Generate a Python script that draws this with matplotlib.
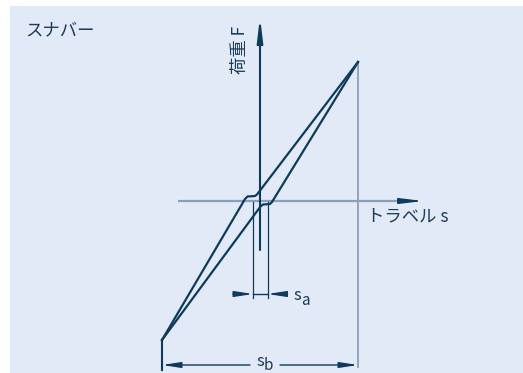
import matplotlib
matplotlib.use('Agg')
import matplotlib.pyplot as plt

plt.rcParams['font.family'] = ['Noto Sans CJK JP', 'DejaVu Sans']

# ヒステリシス曲線 (原点=軸の交点, 単位は任意)
travel_up = [-98, -15, -12.5, -5, -3, 98]
load_up = [-139, 2, 4.5, 5, 6.5, 139]
travel_down = [-98, 0.5, 3, 10, 12, 98]
load_down = [-139, -5.5, -3.5, -3, -1, 139]

# 寸法
sa_left, sa_right = -7, 7.5
sb_left, sb_right = -98, 98
load_max, load_min = 139, -139

title = 'スナバー'
label_f = '荷重 F'
label_s = 'トラベル s'

navy = '#0e3a5c'
grey = '#8a9fb9'
txt = '#1c3b5a'
bg = '#e3eaf7'

fig = plt.figure(figsize=(5.23, 3.73), dpi=100)
ax = fig.add_axes([10 / 523, 0, 513 / 523, 367 / 373])
ax.set_facecolor(bg)
ax.set_xlim(-250, 263)
ax.set_ylim(-172, 195)
for sp in ax.spines.values():
    sp.set_visible(False)
ax.set_xticks([])
ax.set_yticks([])

axis_head = '-|>,head_length=1.4,head_width=0.17'
# 横軸 (灰色の線 + 濃い矢印)
ax.plot([-82, 150], [0, 0], color=grey, lw=1.6, solid_capstyle='butt')
ax.annotate('', xy=(163, 0), xytext=(140, 0),
            arrowprops=dict(arrowstyle=axis_head, mutation_scale=10,
                            color=navy, lw=1.0, shrinkA=0, shrinkB=0))
# 縦軸
ax.annotate('', xy=(0, 184), xytext=(0, -49),
            arrowprops=dict(arrowstyle=axis_head, mutation_scale=10,
                            color=navy, lw=1.5, shrinkA=0, shrinkB=0))

# 補助線
ax.plot([sb_right, sb_right], [load_max, -166], color=grey, lw=1.3)
ax.plot([sb_left, sb_left], [load_min, -169], color=navy, lw=1.5)
for x in (sa_left, sa_right):
    ax.plot([x, x], [-1, -97], color=navy, lw=0.9)

# 曲線
ax.plot(travel_up, load_up, color=navy, lw=1.6, solid_joinstyle='round')
ax.plot(travel_down, load_down, color=navy, lw=1.6, solid_joinstyle='round')

# s_a 寸法
dim = dict(arrowstyle='-|>,head_length=1.1,head_width=0.17', mutation_scale=10,
           color=navy, lw=1.0, shrinkA=0, shrinkB=0)
ax.plot([sa_left, sa_right], [-93, -93], color=navy, lw=1.0)
ax.annotate('', xy=(sa_left, -93), xytext=(sa_left - 20, -93), arrowprops=dim)
ax.annotate('', xy=(sa_right, -93), xytext=(sa_right + 20, -93), arrowprops=dim)
ax.text(41, -99, 's', color=txt, fontsize=12, ha='right', va='baseline')
ax.text(41, -104, 'a', color=txt, fontsize=11, ha='left', va='baseline')

# s_b 寸法
ax.annotate('', xy=(sb_left, -164), xytext=(-10, -164), arrowprops=dim)
ax.annotate('', xy=(sb_right, -164), xytext=(20, -164), arrowprops=dim)
ax.text(4, -164.5, 's', color=txt, fontsize=12, ha='right', va='baseline')
ax.text(4, -168.5, 'b', color=txt, fontsize=11, ha='left', va='baseline')

# ラベル
ax.text(-235, 171, title, color=txt, fontsize=12.5, ha='left', va='center')
ax.text(-20.5, 151, label_f, color=txt, fontsize=12.5, ha='center', va='center', rotation=90)
ax.text(107, -15, label_s, color=txt, fontsize=12.5, ha='left', va='center')

fig.savefig('out.png', dpi=100)
